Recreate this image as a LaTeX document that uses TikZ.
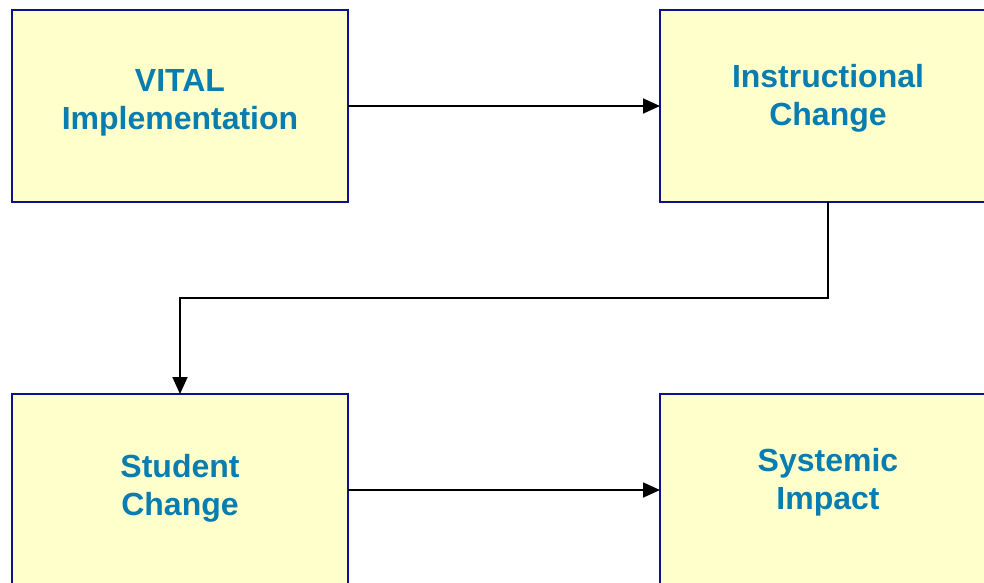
\documentclass[tikz,border=0pt]{standalone}
\usepackage{fontspec}
\setmainfont{Liberation Sans}
\usetikzlibrary{arrows.meta}
\definecolor{boxfill}{HTML}{FFFFCC}
\definecolor{boxdraw}{HTML}{10108C}
\definecolor{txt}{HTML}{0A7DB0}
\tikzset{
  box/.style={draw=boxdraw, line width=2.4pt, fill=boxfill, minimum width=336pt, minimum height=192pt, inner sep=0pt, outer sep=0pt, anchor=north west},
  lbl/.style={text=txt, font=\fontsize{32}{38}\selectfont\bfseries, align=center, inner sep=0pt},
  conn/.style={line width=1.7pt, -{Triangle[length=17pt,width=15pt]}}
}
\begin{document}
\begin{tikzpicture}[x=1pt,y=-1pt]
\useasboundingbox (0,0) rectangle (984,582);
\clip (0,0) rectangle (984,582);
\node[box] (b1) at (12,10) {};
\node[box] (b2) at (660,10) {};
\node[box] (b3) at (12,394) {};
\node[box] (b4) at (660,394) {};
\node[lbl] (t1) at (180,103) {VITAL\\Implementation};
\node[lbl] (t2) at (828,98) {Instructional\\Change};
\node[lbl] (t3) at (180,488) {Student\\Change};
\node[lbl] (t4) at (828,482) {Systemic\\Impact};
\draw[conn] (b1.east) -- (b2.west);
\draw[conn] (b2.south) -- ++(0,96) -| (b3.north);
\draw[conn] (b3.east) -- (b4.west);
\end{tikzpicture}
\end{document}
